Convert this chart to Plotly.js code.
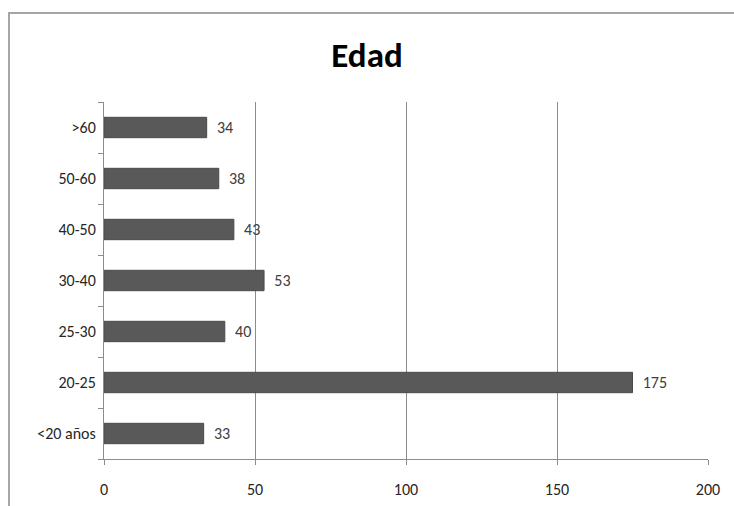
<!DOCTYPE html>
<html>
<head>
<meta charset="utf-8">
<script src="https://cdn.plot.ly/plotly-3.0.1.min.js"></script>
<style>
html,body{margin:0;padding:0;background:#fff;overflow:hidden;}
#wrap{position:relative;width:734px;height:506px;}
#chart{width:734px;height:506px;}
#frame{position:absolute;left:8px;top:12px;width:800px;height:600px;border-top:2px solid #a6a6a6;border-left:2px solid #a6a6a6;pointer-events:none;}
</style>
</head>
<body>
<div id="wrap"><div id="chart"></div><div id="frame"></div></div>
<script>
const categories = ["<20 años","20-25","25-30","30-40","40-50","50-60",">60"];
const values = [33,175,40,53,43,38,34];
const xTicks = [0,50,100,150,200];

const fontFam = "Carlito, Lato, 'Open Sans', sans-serif";

Plotly.newPlot('chart', [{
  type: 'bar',
  orientation: 'h',
  y: categories,
  x: values,
  text: values.map(v => '\u00A0\u00A0' + v),
  textposition: 'outside',
  cliponaxis: false,
  textfont: {family: fontFam, size: 16, color: '#404040'},
  marker: {color: '#595959', line: {color: '#4a4a4a', width: 1}},
  hoverinfo: 'none'
}], {
  width: 734, height: 506,
  margin: {l: 104, r: 26, t: 102, b: 47},
  paper_bgcolor: '#fff', plot_bgcolor: '#fff',
  bargap: 0.6,
  showlegend: false,
  title: {text: '<b>Edad</b>', x: 0.5, xref: 'container', xanchor: 'center', y: 0.891, yref: 'container', yanchor: 'middle', font: {family: fontFam, size: 35, color: '#000'}},
  xaxis: {
    range: [0, 200], tickvals: xTicks, ticktext: xTicks.map(String),
    showgrid: true, gridcolor: '#8c8c8c', gridwidth: 1,
    showline: true, linecolor: '#8c8c8c', linewidth: 1,
    ticks: 'outside', ticklen: 5, tickcolor: '#8c8c8c',
    ticklabelstandoff: 11,
    zeroline: false, fixedrange: true,
    tickfont: {family: fontFam, size: 16, color: '#262626'}
  },
  yaxis: {
    type: 'category', categoryorder: 'array', categoryarray: categories,
    showline: true, linecolor: '#8c8c8c', linewidth: 1,
    ticks: 'outside', ticklen: 5, tickcolor: '#8c8c8c', tickson: 'boundaries',
    showgrid: false, zeroline: false, fixedrange: true,
    ticklabelstandoff: 4,
    tickfont: {family: fontFam, size: 16, color: '#262626'}
  }
}, {displayModeBar: false, staticPlot: true});
</script>
</body>
</html>
